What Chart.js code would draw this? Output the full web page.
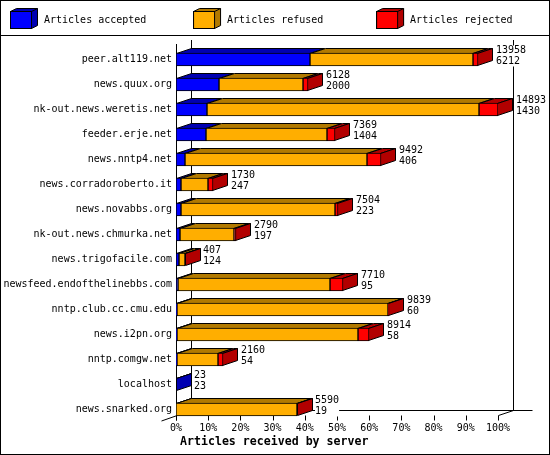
<!DOCTYPE html>
<html>
<head>
<meta charset="utf-8">
<style>html,body{margin:0;padding:0;background:#fff}canvas{display:block}</style>
<script src="https://cdn.jsdelivr.net/npm/chart.js@4"></script>
</head>
<body>
<canvas id="c" width="550" height="455"></canvas>
<script>
const servers = ["peer.alt119.net","news.quux.org","nk-out.news.weretis.net","feeder.erje.net","news.nntp4.net","news.corradoroberto.it","news.novabbs.org","nk-out.news.chmurka.net","news.trigofacile.com","newsfeed.endofthelinebbs.com","nntp.club.cc.cmu.edu","news.i2pn.org","nntp.comgw.net","localhost","news.snarked.org"];
const accepted = [6212,2000,1430,1404,406,247,223,197,124,95,60,58,54,23,19];
const refused  = [7536,3860,12596,5575,8423,1251,7141,2463,273,7017,9739,8374,1906,0,5561];
const rejected = [210,268,867,390,663,232,140,130,10,598,40,482,200,0,10];
const seriesNames = ["Articles accepted","Articles refused ","Articles rejected"];
const frontColors = ["#0000FF","#FFAE00","#FF0000"];
const darkColors  = ["#0000B2","#B27A00","#B20000"];
const tickPercents = [0,10,20,30,40,50,60,70,80,90,100];
const axisTitle = "Articles received by server";
const totals = servers.map((_, i) => accepted[i] + refused[i] + rejected[i]);
const maxTotal = Math.max(...totals);
const MONO = '"DejaVu Sans Mono", monospace';
const DX = 15, DY = 5;

function swatch(i){
  const c = document.createElement('canvas'); c.width = 29; c.height = 24;
  const g = c.getContext('2d'); g.lineWidth = 1; g.strokeStyle = '#000';
  const L=.5,R=21.5,T=3.5,B=20.5,dx=6,dy=3;
  g.fillStyle = darkColors[i];
  g.beginPath(); g.moveTo(L,T); g.lineTo(L+dx,T-dy); g.lineTo(R+dx,T-dy); g.lineTo(R+dx,B-dy); g.lineTo(R,B); g.lineTo(R,T); g.closePath(); g.fill(); g.stroke();
  g.fillStyle = frontColors[i]; g.fillRect(L,T,R-L,B-T); g.strokeRect(L,T,R-L,B-T);
  g.beginPath(); g.moveTo(R,T); g.lineTo(R+dx,T-dy); g.stroke();
  return c;
}
function poly(ctx, pts, fill){
  ctx.beginPath(); pts.forEach((p,i)=> i?ctx.lineTo(p[0],p[1]):ctx.moveTo(p[0],p[1])); ctx.closePath();
  ctx.fillStyle = fill; ctx.fill(); ctx.stroke();
}
function seg(ctx,a,b,c,d){ ctx.beginPath(); ctx.moveTo(a,b); ctx.lineTo(c,d); ctx.stroke(); }

const frame3d = {
  id:'frame3d',
  beforeLayout(chart){
    const l = chart.legend;
    if (l && !l._wrapped){ const f = l.fit; l.fit = function(){ f.call(this); this.height = 47; }; l._wrapped = true; }
  },
  afterLayout(chart){
    const l = chart.legend;
    l.left = -36.7; l.right = 1000; l.top = -31.7; l.bottom = 47;
    const xs = chart.scales.x;
    if (!xs._shifted){ const d = xs.drawTitle; xs.drawTitle = function(){ const g=this.ctx; g.save(); g.translate(4,0); d.apply(this,arguments); g.restore(); }; xs._shifted = true; }
  },
  beforeDraw(chart){
    const ctx = chart.ctx; ctx.save();
    ctx.fillStyle='#fff'; ctx.fillRect(0,0,550,455);
    ctx.strokeStyle='#000'; ctx.lineWidth=1;
    ctx.strokeRect(.5,.5,549,454);
    seg(ctx,0,35.5,550,35.5);
    ctx.restore();
  },
  beforeDatasetsDraw(chart){
    const ctx = chart.ctx, xs = chart.scales.x, a = chart.chartArea;
    ctx.save(); ctx.strokeStyle='#000'; ctx.lineWidth=1;
    const x0 = xs.getPixelForValue(0)+.5, x1 = xs.getPixelForValue(maxTotal)+.5;
    const floor = a.top + 363.5, front = floor + DY;
    seg(ctx,x0,44,x0,front+5);
    seg(ctx,x0+DX,40,x0+DX,floor);
    seg(ctx,x1+DX,40,x1+DX,floor);
    seg(ctx,x0+DX,floor,x1+DX+19,floor);
    seg(ctx,x0-15,front+5.5,x0+DX,floor);
    seg(ctx,x1,front,x1+DX,floor);
    tickPercents.forEach(p=>{ const x = Math.round(xs.getPixelForValue(p/100*maxTotal))+.5; seg(ctx,x,front,x,front+5); });
    // depth faces drawn from the bar elements
    const metas = [0,1,2].map(i=>chart.getDatasetMeta(i));
    metas.forEach(m=>m.data.forEach(b=>{ b.x=Math.round(b.x); b.base=Math.round(b.base); }));
    servers.forEach((_,r)=>{
      let last = -1;
      metas.forEach((m,i)=>{
        const b = m.data[r], v = chart.data.datasets[i].data[r];
        if (!v) return;
        last = i;
        const t = b.y-b.height/2+.5, L=b.base+.5, R=Math.max(b.x-.5,L);
        poly(ctx,[[L,t],[R,t],[R+DX,t-DY],[L+DX,t-DY]],darkColors[i]);
      });
      if (last>=0){
        const b = metas[last].data[r];
        const t=b.y-b.height/2+.5, bt=b.y+b.height/2-.5, R=Math.max(b.x-.5,b.base+.5);
        poly(ctx,[[R,t],[R+DX,t-DY],[R+DX,bt-DY],[R,bt]],darkColors[last]);
      }
    });
    ctx.restore();
  },
  afterDatasetsDraw(chart){
    const ctx = chart.ctx, xs = chart.scales.x, ys = chart.scales.y;
    ctx.save();
    ctx.font = '10px '+MONO; ctx.textBaseline='middle'; ctx.textAlign='left';
    servers.forEach((_,r)=>{
      const x = Math.round(xs.getPixelForValue(totals[r]))+DX+3, y = ys.getPixelForValue(r);
      const top = String(totals[r]), bot = String(accepted[r]);
      const w = Math.max(ctx.measureText(top).width, ctx.measureText(bot).width);
      ctx.fillStyle='#fff'; ctx.fillRect(x,y-14,w,21);
      ctx.fillStyle='#000';
      ctx.fillText(top,x,y-9);
      ctx.fillText(bot,x,y+1.5);
    });
    ctx.restore();
  }
};

new Chart(document.getElementById('c'),{
  type:'bar',
  data:{labels:servers,datasets:[
    {label:seriesNames[0],data:accepted,backgroundColor:frontColors[0]},
    {label:seriesNames[1],data:refused,backgroundColor:frontColors[1]},
    {label:seriesNames[2],data:rejected,backgroundColor:frontColors[2]}
  ]},
  options:{
    indexAxis:'y',responsive:false,animation:false,devicePixelRatio:1,
    layout:{padding:{left:0,right:52,top:0,bottom:0}},
    datasets:{bar:{barThickness:13,borderColor:'#000',borderWidth:1,borderSkipped:false}},
    plugins:{
      tooltip:{enabled:false},
      legend:{display:true,position:'top',align:'start',
        labels:{usePointStyle:true,pointStyleWidth:29,padding:46.7,color:'#000',font:{family:MONO,size:10},
          generateLabels:()=>seriesNames.map((n,i)=>({text:n,pointStyle:swatch(i),fillStyle:frontColors[i],strokeStyle:'#000',lineWidth:1,datasetIndex:i,hidden:false}))}}
    },
    scales:{
      x:{type:'linear',stacked:true,min:0,max:maxTotal,
        afterBuildTicks:s=>{s.ticks=tickPercents.map(p=>({value:p/100*maxTotal}));},
        afterFit:s=>{s.height=33;},
        grid:{display:false,drawTicks:false},border:{display:false},
        ticks:{autoSkip:false,maxRotation:0,padding:0,color:'#000',font:{family:MONO,size:10},callback:(v,i)=>tickPercents[i]+'%'},
        title:{display:true,text:axisTitle,align:'start',color:'#000',font:{family:MONO,size:11.6,weight:'bold'},padding:{top:0,bottom:6}}
      },
      y:{stacked:true,afterFit:s=>{s.width=176;},
        grid:{display:false,drawTicks:false},border:{display:false},
        ticks:{autoSkip:false,padding:4,color:'#000',font:{family:MONO,size:10}}
      }
    }
  },
  plugins:[frame3d]
});
</script>
</body>
</html>
